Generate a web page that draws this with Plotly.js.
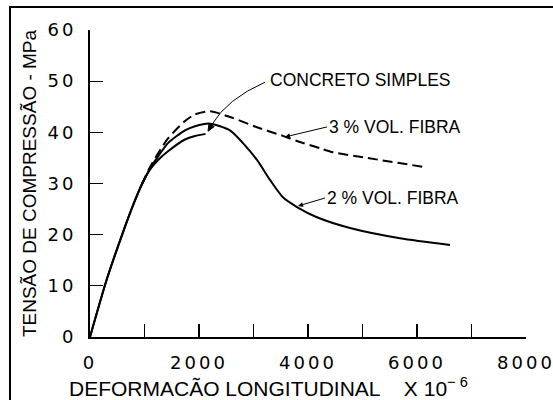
<!DOCTYPE html>
<html>
<head>
<meta charset="utf-8">
<script src="https://cdn.plot.ly/plotly-3.0.1.min.js"></script>
<style>
html,body{margin:0;padding:0;background:#fff;}
#chart{width:553px;height:400px;}
.xtick text,.ytick text{letter-spacing:3px;}
</style>
</head>
<body>
<div id="chart"></div>
<script>
// Strain (x 10^-6) and stress (MPa)
const concretoX = [0, 300, 600, 800, 950, 1100, 1250, 1431, 1743, 1927, 2120];
const concretoY = [0, 11, 20.3, 26, 29.8, 32.7, 34.6, 36.3, 38.6, 39.3, 39.7];

const fibra2X = [0, 300, 600, 800, 950, 1100, 1250, 1431, 1743, 1927, 2200, 2569, 2807, 3064, 3303, 3541, 3798, 4165, 4771, 5688, 6606];
const fibra2Y = [0, 11, 20.3, 26, 29.8, 32.9, 35.3, 37.9, 40.4, 41.2, 41.7, 40.4, 37.9, 34.6, 30.7, 27.3, 25.4, 23.4, 21.3, 19.3, 18.0];

const fibra3X = [950, 1100, 1250, 1431, 1743, 1927, 2200, 2569, 3064, 3541, 3798, 4220, 4459, 5083, 6147];
const fibra3Y = [29.8, 33.2, 35.9, 38.8, 42.2, 43.5, 44.1, 43.0, 41.0, 39.3, 38.3, 36.9, 36.1, 35.0, 33.2];

const xLabelVals = [0, 2000, 4000, 6000, 8000];
const xLabelText = ["0", "2000", "4000", "6000", "8000"];
const xTickMarks = [1000, 2000, 3000, 4000, 5000, 6000, 7000];
const yLabelVals = [0, 10, 20, 30, 40, 50, 60];
const yLabelText = ["0", "10", "20", "30", "40", "50", "60"];
const yTickMarks = [10, 20, 30, 40, 50];

const tickFont = {family: "DejaVu Sans", size: 18, color: "#000"};
const labFont = {family: "Liberation Sans, Arial", size: 17.5, color: "#000"};

const traces = [
  {x: fibra3X, y: fibra3Y, mode: "lines", line: {color: "#000", width: 2, dash: "10px,5px", shape: "spline", smoothing: 0.7}, hoverinfo: "skip"},
  {x: fibra2X, y: fibra2Y, mode: "lines", line: {color: "#000", width: 2, shape: "spline", smoothing: 0.7}, hoverinfo: "skip"},
  {x: concretoX, y: concretoY, mode: "lines", line: {color: "#000", width: 2, shape: "spline", smoothing: 0.7}, hoverinfo: "skip"},
  // empty trace so the overlaid tick-mark axes are drawn
  {x: [], y: [], xaxis: "x2", yaxis: "y2", mode: "lines", hoverinfo: "skip"}
];

const layout = {
  width: 553, height: 400,
  margin: {l: 90, r: 27, t: 30, b: 63},
  paper_bgcolor: "#fff", plot_bgcolor: "rgba(0,0,0,0)",
  showlegend: false,
  font: {family: "Liberation Sans, Arial", color: "#000"},
  xaxis: {
    range: [0, 8000], showgrid: false, zeroline: false,
    showline: true, linecolor: "#000", linewidth: 2,
    tickmode: "array", tickvals: xLabelVals, ticktext: xLabelText,
    ticks: "", tickfont: tickFont, ticklabelstandoff: 8, ticklabeloverflow: "allow"
  },
  xaxis2: {
    range: [0, 8000], overlaying: "x", anchor: "y2", side: "bottom",
    showgrid: false, zeroline: false, showline: false, showticklabels: false,
    tickmode: "array", tickvals: xTickMarks, ticks: "inside", ticklen: 13, tickwidth: 1.2, tickcolor: "#000"
  },
  yaxis: {
    range: [0, 60], showgrid: false, zeroline: false,
    showline: true, linecolor: "#000", linewidth: 2,
    tickmode: "array", tickvals: yLabelVals, ticktext: yLabelText,
    ticks: "", tickfont: tickFont, ticklabelstandoff: 8, ticklabeloverflow: "allow",
    title: {text: "TENSÃO DE COMPRESSÃO - MPa", font: {family: "Liberation Sans, Arial", size: 19, color: "#000"}, standoff: 6}
  },
  yaxis2: {
    range: [0, 60], overlaying: "y", anchor: "x2", side: "left",
    showgrid: false, zeroline: false, showline: false, showticklabels: false,
    tickmode: "array", tickvals: yTickMarks, ticks: "inside", ticklen: 13, tickwidth: 1.2, tickcolor: "#000"
  },
  shapes: [
    {type: "rect", xref: "paper", yref: "paper", x0: -0.1835, x1: 1.12, y0: -0.26, y1: 1.0749, line: {color: "#000", width: 2}, fillcolor: "rgba(0,0,0,0)", layer: "below"},
    {type: "path", xref: "x", yref: "y", path: "M 3211,49.8 Q 2508,46.5 2229,41.4", line: {color: "#000", width: 1}},
    {type: "path", xref: "x", yref: "y", path: "M 2165,40.23 L 2279,41.11 L 2183.5,41.7 Z", line: {color: "#000", width: 1}, fillcolor: "#000"}
  ],
  annotations: [
    {xref: "paper", yref: "paper", x: -0.0528, y: -0.163, xanchor: "left", yanchor: "middle", showarrow: false,
     text: "DEFORMACÃO LONGITUDINAL&nbsp;&nbsp;&nbsp;&nbsp;X 10<sup>−&nbsp;6</sup>", font: {family: "Liberation Sans, Arial", size: 21, color: "#000"}},
    {xref: "x", yref: "y", x: 3270, y: 50.2, xanchor: "left", yanchor: "middle", showarrow: false, text: "CONCRETO SIMPLES", font: labFont},
    {xref: "x", yref: "y", x: 3578, y: 39.1, text: "3 % VOL. FIBRA", showarrow: true, ax: 42, ay: -10, xanchor: "left", arrowhead: 2, arrowsize: 1, arrowwidth: 1, arrowcolor: "#000", font: labFont},
    {xref: "x", yref: "y", x: 3817, y: 25.6, text: "2 % VOL. FIBRA", showarrow: true, ax: 27, ay: -8, xanchor: "left", arrowhead: 2, arrowsize: 1, arrowwidth: 1, arrowcolor: "#000", font: labFont}
  ]
};

Plotly.newPlot("chart", traces, layout, {displayModeBar: false, staticPlot: true});
</script>
</body>
</html>
